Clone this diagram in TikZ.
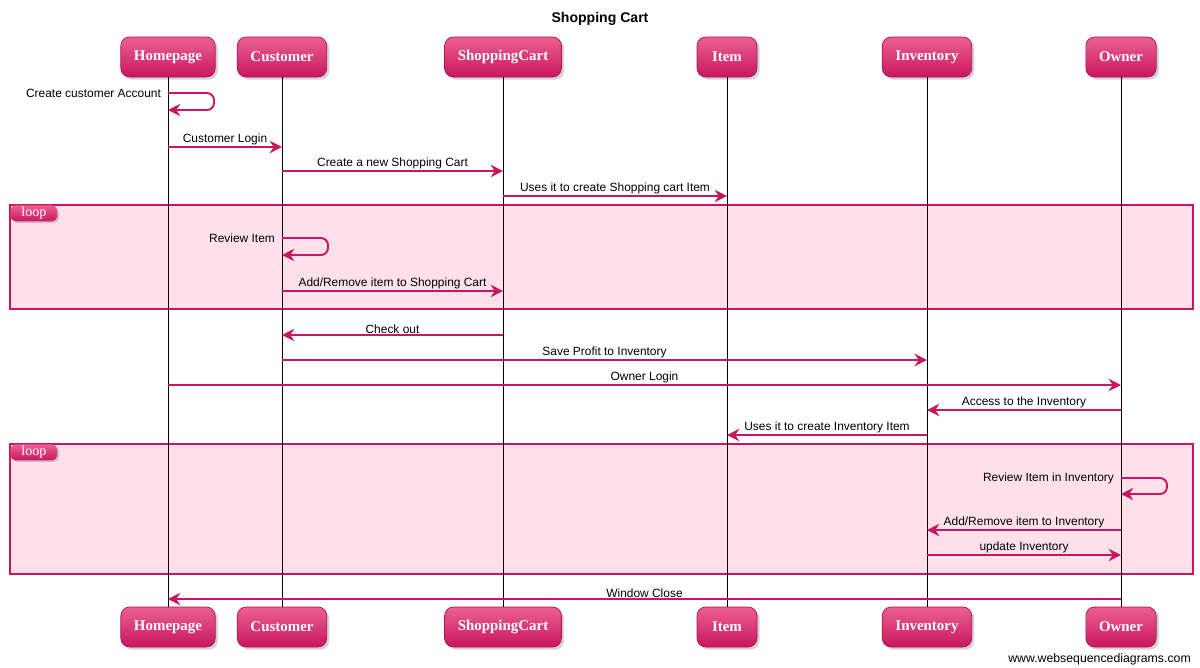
\documentclass[tikz,border=0pt]{standalone}
\usepackage{fontspec}
\setmainfont{Liberation Sans}
\newfontfamily\boxfont{Liberation Serif}
\usetikzlibrary{arrows.meta,shadows}
\definecolor{wsdpink}{RGB}{200,22,96}
\definecolor{wsdtop}{RGB}{236,96,144}
\definecolor{wsdfill}{RGB}{253,224,234}

\begin{document}
\begin{tikzpicture}[
    x=0.02cm, y=-0.02cm,
    actor/.style={rounded corners=5pt, top color=wsdtop, bottom color=wsdpink, draw=wsdpink!85!black, thin,
      text=white, font=\boxfont\bfseries\fontsize{8.5}{10}\selectfont, minimum height=0.8cm, minimum width=1.2cm,
      inner xsep=7.5pt, drop shadow={shadow xshift=1.5pt, shadow yshift=-1.5pt, opacity=0.35}},
    looptag/.style={rounded corners=3pt, top color=wsdtop, bottom color=wsdpink, text=white,
      font=\boxfont\fontsize{8}{9}\selectfont, minimum width=0.94cm, minimum height=0.32cm, inner sep=0pt,
      drop shadow={shadow xshift=1pt, shadow yshift=-1pt, opacity=0.35}},
    loopbox/.style={draw=wsdpink, fill=wsdfill, line width=0.9pt},
    life/.style={draw=black, line width=0.5pt},
    msg/.style={draw=wsdpink, line width=1.1pt, -{Stealth[length=7pt,width=7pt]}},
    lbl/.style={font=\fontsize{6.8}{8}\selectfont, inner sep=0.5pt},
  ]

  \useasboundingbox (0,0) rectangle (1200,667);

  \node[font=\bfseries\fontsize{8}{9}\selectfont] (title) at (600,19) {Shopping Cart};

  \foreach \n/\x/\t in {hp/168/Homepage, cust/282/Customer, cart/503/ShoppingCart, item/727/Item, inv/927/Inventory, own/1121/Owner} {
    \node[actor] (\n-t) at (\x,57) {\t};
    \node[actor] (\n-b) at (\x,627) {\t};
  }

  \draw[loopbox] (10,205) rectangle (1193,309);
  \node[looptag, anchor=north west] (loop1) at (10,205) {loop};
  \draw[loopbox] (10,444) rectangle (1193,574);
  \node[looptag, anchor=north west] (loop2) at (10,444) {loop};

  \foreach \n in {hp,cust,cart,item,inv,own}
    \draw[life] (\n-t) -- (\n-b);

  \draw[msg, rounded corners=4pt] (hp-t |- 0,93) node[lbl, anchor=east, xshift=-3pt] (m1) {Create customer Account}
    -- ++(46,0) -- ++(0,17) -- (hp-t |- 0,110);
  \draw[msg] (hp-t |- 0,147) -- (cust-t |- 0,147) node[lbl, midway, above] (m2) {Customer Login};
  \draw[msg] (cust-t |- 0,171) -- (cart-t |- 0,171) node[lbl, midway, above] (m3) {Create a new Shopping Cart};
  \draw[msg] (cart-t |- 0,196) -- (item-t |- 0,196) node[lbl, midway, above] (m4) {Uses it to create Shopping cart Item};

  \draw[msg, rounded corners=4pt] (cust-t |- 0,238) node[lbl, anchor=east, xshift=-3pt] (m5) {Review Item}
    -- ++(46,0) -- ++(0,17) -- (cust-t |- 0,255);
  \draw[msg] (cust-t |- 0,291) -- (cart-t |- 0,291) node[lbl, midway, above] (m6) {Add/Remove item to Shopping Cart};

  \draw[msg] (cart-t |- 0,335) -- (cust-t |- 0,335) node[lbl, midway, above] (m7) {Check out};
  \draw[msg] (cust-t |- 0,360) -- (inv-t |- 0,360) node[lbl, midway, above] (m8) {Save Profit to Inventory};
  \draw[msg] (hp-t |- 0,385) -- (own-t |- 0,385) node[lbl, midway, above] (m9) {Owner Login};
  \draw[msg] (own-t |- 0,410) -- (inv-t |- 0,410) node[lbl, midway, above] (m10) {Access to the Inventory};
  \draw[msg] (inv-t |- 0,435) -- (item-t |- 0,435) node[lbl, midway, above] (m11) {Uses it to create Inventory Item};

  \draw[msg, rounded corners=4pt] (own-t |- 0,478) node[lbl, anchor=east, xshift=-3pt] (m12) {Review Item in Inventory}
    -- ++(46,0) -- ++(0,16) -- (own-t |- 0,494);
  \draw[msg] (own-t |- 0,530) -- (inv-t |- 0,530) node[lbl, midway, above] (m13) {Add/Remove item to Inventory};
  \draw[msg] (inv-t |- 0,555) -- (own-t |- 0,555) node[lbl, midway, above] (m14) {update Inventory};

  \draw[msg] (own-t |- 0,599) -- (hp-t |- 0,599) node[lbl, midway, above] (m15) {Window Close};

  \node[font=\fontsize{7}{8}\selectfont, anchor=east] (site) at (1197,659) {www.websequencediagrams.com};

\end{tikzpicture}
\end{document}
